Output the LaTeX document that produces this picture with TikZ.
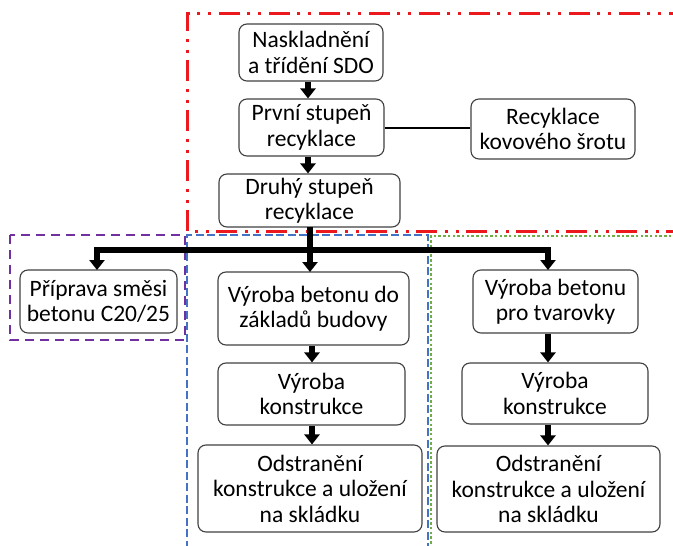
\documentclass[tikz,border=0pt]{standalone}
\usepackage{fontspec}
\setmainfont{Carlito}
\usetikzlibrary{arrows.meta}
\definecolor{redc}{RGB}{235,25,30}
\definecolor{bluec}{RGB}{68,114,196}
\definecolor{purplec}{RGB}{112,48,160}
\definecolor{greenc}{RGB}{112,173,71}
\tikzset{
  stepbox/.style={draw=black!75, line width=1.1pt, rounded corners=8pt, align=center,
    inner sep=0pt, font=\fontsize{23.5}{25.5}\selectfont},
  blockarrow/.style={line width=5.5pt, -{Triangle[width=15pt,length=10pt]}},
  biarrow/.style={line width=5.5pt, {Triangle[width=15pt,length=10pt]}-{Triangle[width=15pt,length=10pt]}, line join=miter},
  thinlink/.style={line width=2pt},
  redframe/.style={draw=redc, line width=3pt, dash pattern=on 21pt off 8pt on 3pt off 8pt on 3pt off 7pt},
  blueframe/.style={draw=bluec, line width=2pt, dash pattern=on 8pt off 3.5pt},
  purpleframe/.style={draw=purplec, line width=2.5pt, dash pattern=on 9pt off 6pt},
  greenframe/.style={draw=greenc, line width=2.5pt, dash pattern=on 2.5pt off 2.2pt}
}
\begin{document}
\begin{tikzpicture}[x=1pt,y=-1pt]
\useasboundingbox (0,0) rectangle (673,546);
% frames
\draw[redframe] (690,13) -- (187,13) -- (187,231) -- (690,231);
\draw[purpleframe] (10,235) rectangle (185,340);
\draw[blueframe] (187,560) -- (187,235) -- (428,235) -- (428,560);
\draw[greenframe] (690,236) -- (431,236) -- (431,560);
% nodes
\node[stepbox, minimum width=144pt, minimum height=57pt] (nask) at (311,52.5) {Naskladnění\\a třídění SDO};
\node[stepbox, minimum width=145pt, minimum height=57pt] (prvni) at (311.5,127.5) {První stupeň\\recyklace};
\node[stepbox, minimum width=164pt, minimum height=60pt] (kov) at (553,129) {Recyklace\\kovového šrotu};
\node[stepbox, minimum width=181pt, minimum height=53pt] (druhy) at (309.5,200.5) {Druhý stupeň\\recyklace};
\node[stepbox, minimum width=157pt, minimum height=63pt] (prip) at (98.5,301.5) {Příprava směsi\\betonu C20/25};
\node[stepbox, minimum width=191pt, minimum height=73pt] (zakl) at (313.5,308.5) {Výroba betonu do\\základů budovy};
\node[stepbox, minimum width=165pt, minimum height=63pt] (tvar) at (555.5,301.5) {Výroba betonu\\pro tvarovky};
\node[stepbox, minimum width=187pt, minimum height=62pt] (konL) at (311.5,394) {Výroba\\konstrukce};
\node[stepbox, minimum width=224pt, minimum height=87pt] (odsL) at (310,488.5) {Odstranění\\konstrukce a uložení\\na skládku};
\node[stepbox, minimum width=186pt, minimum height=61pt] (konR) at (555,393.5) {Výroba\\konstrukce};
\node[stepbox, minimum width=223pt, minimum height=86pt] (odsR) at (548.5,489) {Odstranění\\konstrukce a uložení\\na skládku};
% coordinates
\coordinate (colT) at (308,0);
\coordinate (colL) at (312,0);
\coordinate (barL) at (97,250);
\coordinate (barR) at (548,250);
\coordinate (stemT) at (310,227);
\coordinate (stemB) at (310,272);
\coordinate (prT) at (97,270);
\coordinate (tvT) at (548,270);
% connectors
\draw[blockarrow] (nask.south -| colT) -- (prvni.north -| colT);
\draw[blockarrow] (prvni.south -| colT) -- (druhy.north -| colT);
\draw[thinlink] (prvni.east) -- (kov.west |- prvni.east);
\draw[biarrow] (prT) -- (barL) -- (barR) -- (tvT);
\draw[blockarrow] (stemT) -- (stemB);
\draw[blockarrow] (zakl.south -| colL) -- (konL.north -| colL);
\draw[blockarrow] (konL.south -| colL) -- (odsL.north -| colL);
\draw[blockarrow] (tvar.south -| barR) -- (konR.north -| barR);
\draw[blockarrow] (konR.south -| barR) -- (odsR.north -| barR);
\end{tikzpicture}
\end{document}
